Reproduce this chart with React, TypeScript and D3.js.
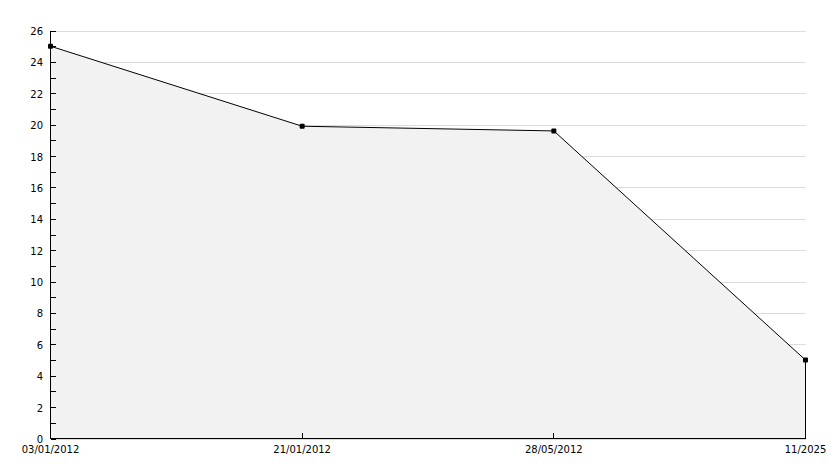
import React from "react";
import * as d3 from "d3";

const categories = ["03/01/2012", "21/01/2012", "28/05/2012", "11/2025"];
const values = [25, 19.9, 19.6, 5];
const yMajorTicks = [0, 2, 4, 6, 8, 10, 12, 14, 16, 18, 20, 22, 24, 26];
const yMinorTicks = [1, 3, 5, 7, 9, 11, 13, 15, 17, 19, 21, 23, 25];

const W = 834;
const H = 468;
const left = 50.5;
const right = 805.5;
const top = 30.5;
const bottom = 438.5;

export default function App() {
  const x = d3.scalePoint<string>().domain(categories).range([left, right]);
  const y = d3.scaleLinear().domain([0, 26]).range([bottom, top]);
  const pts: [number, number][] = categories.map((c, i) => [x(c)!, y(values[i])]);
  const area = d3
    .area<[number, number]>()
    .x((d) => d[0])
    .y0(y(0))
    .y1((d) => d[1]);
  const line = d3.line<[number, number]>().x((d) => d[0]).y((d) => d[1]);
  const font = "DejaVu Sans, Verdana, sans-serif";
  return (
    <div style={{ position: "absolute", left: 0, top: 0 }}>
      <svg width={W} height={H} style={{ display: "block", background: "#fff" }}>
        {yMajorTicks.map((t) => (
          <line
            key={"g" + t}
            x1={left + 5}
            x2={right}
            y1={Math.round(y(t)) + 0.5}
            y2={Math.round(y(t)) + 0.5}
            stroke="#dcdcdc"
            shapeRendering="crispEdges"
          />
        ))}
        <path d={area(pts)!} fill="#f2f2f2" stroke="none" />
        <path d={line(pts)!} fill="none" stroke="#000" strokeWidth={1} />
        <line
          x1={pts[pts.length - 1][0]}
          x2={pts[pts.length - 1][0]}
          y1={pts[pts.length - 1][1]}
          y2={bottom}
          stroke="#000"
          shapeRendering="crispEdges"
        />
        <line x1={left} x2={left} y1={top} y2={bottom} stroke="#000" shapeRendering="crispEdges" />
        <line x1={left} x2={right} y1={bottom} y2={bottom} stroke="#000" shapeRendering="crispEdges" />
        {[...yMajorTicks, ...yMinorTicks].map((t) => (
          <line
            key={"t" + t}
            x1={left}
            x2={left + 5}
            y1={Math.round(y(t)) + 0.5}
            y2={Math.round(y(t)) + 0.5}
            stroke="#000"
            shapeRendering="crispEdges"
          />
        ))}
        {categories.slice(1, -1).map((c) => (
          <line
            key={"xt" + c}
            x1={x(c)!}
            x2={x(c)!}
            y1={bottom - 6}
            y2={bottom}
            stroke="#000"
            shapeRendering="crispEdges"
          />
        ))}
        {yMajorTicks.map((t) => (
          <text
            key={"l" + t}
            x={43}
            y={y(t) + (t === 0 ? 1 : 1.5)}
            textAnchor="end"
            dominantBaseline="middle"
            fontFamily={font}
            fontSize={10}
            fill="#000"
          >
            {t}
          </text>
        ))}
        {categories.map((c) => (
          <text
            key={"xl" + c}
            x={x(c)!}
            y={453}
            textAnchor="middle"
            fontFamily={font}
            fontSize={10}
            fill="#000"
          >
            {c}
          </text>
        ))}
        {pts.map((p, i) => (
          <rect key={"m" + i} x={p[0] - 2.5} y={p[1] - 2.5} width={5} height={5} rx={1} fill="#000" />
        ))}
      </svg>
    </div>
  );
}
